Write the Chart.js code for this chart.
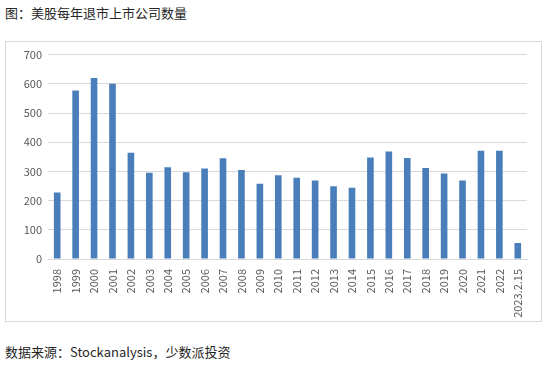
<!DOCTYPE html>
<html>
<head>
<meta charset="utf-8">
<script src="https://cdn.jsdelivr.net/npm/chart.js@4.4.1/dist/chart.umd.min.js"></script>
<style>
  html, body { margin: 0; padding: 0; background: #ffffff; }
  body { width: 550px; height: 366px; position: relative; overflow: hidden;
         font-family: "Noto Sans CJK SC", "Noto Sans", sans-serif; }
  #title { position: absolute; left: 5px; top: 4px; font-size: 13px; color: #262626; line-height: 18px; white-space: nowrap; }
  #source { position: absolute; left: 5px; top: 343px; font-size: 13px; color: #262626; line-height: 18px; white-space: nowrap; }
  #frame { position: absolute; left: 5px; top: 41px; width: 535px; height: 279px; border: 1px solid #d9d9d9; }
  #frame canvas { display: block; }
</style>
</head>
<body>
<div id="title">图：美股每年退市上市公司数量</div>
<div id="frame"><canvas id="c" width="535" height="279"></canvas></div>
<div id="source">数据来源：Stockanalysis，少数派投资</div>
<script>
const categories = ["1998","1999","2000","2001","2002","2003","2004","2005","2006","2007","2008","2009","2010",
  "2011","2012","2013","2014","2015","2016","2017","2018","2019","2020","2021","2022","2023.2.15"];
const delistings = [228,577,620,600,364,295,314,297,310,345,305,258,287,
  278,269,249,244,348,368,346,312,293,269,371,371,55];
const yTicks = [0,100,200,300,400,500,600,700];

new Chart(document.getElementById('c'), {
  type: 'bar',
  data: {
    labels: categories,
    datasets: [{
      data: delistings,
      backgroundColor: '#4a7ebb',
      borderWidth: 0,
      barPercentage: 0.36,
      categoryPercentage: 1.0
    }]
  },
  options: {
    responsive: false,
    animation: false,
    devicePixelRatio: 1,
    layout: { padding: { left: 0, right: 14, top: 12, bottom: 0 } },
    plugins: { legend: { display: false }, tooltip: { enabled: false } },
    scales: {
      x: {
        grid: { display: false },
        border: { display: true, color: '#d9d9d9', width: 1 },
        ticks: {
          color: '#595959',
          font: { family: '"Noto Sans CJK SC", sans-serif', size: 11 },
          minRotation: 90, maxRotation: 90, autoSkip: false, padding: 2
        },
        afterFit: (s) => { s.height = 62; }
      },
      y: {
        min: 0, max: 700,
        afterBuildTicks: (s) => { s.ticks = yTicks.map(v => ({ value: v })); },
        grid: { color: '#d9d9d9', lineWidth: 1, drawTicks: false },
        border: { display: false },
        ticks: {
          color: '#595959',
          font: { family: '"Noto Sans CJK SC", sans-serif', size: 11 },
          padding: 6
        },
        afterFit: (s) => { s.width = 42; }
      }
    }
  }
});
</script>
</body>
</html>
